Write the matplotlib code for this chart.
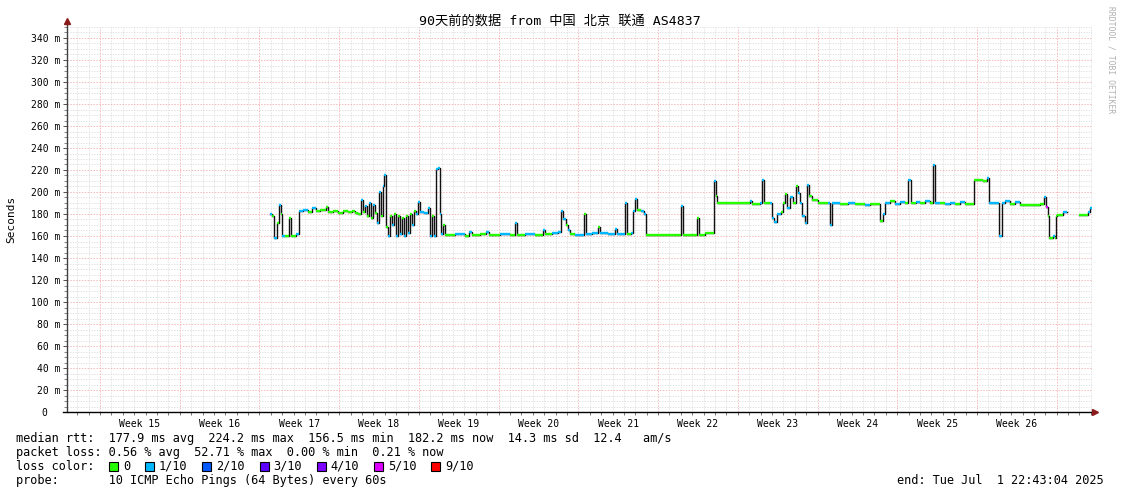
import numpy as np
import matplotlib
matplotlib.use("Agg")
import matplotlib.pyplot as plt
from matplotlib.patches import Rectangle

# ---------------- data ----------------
# time in days since start of the 90-day window, median rtt in ms, loss level (x/10)
t_days = [17.82, 18.00, 18.17, 18.44, 18.61, 18.79, 18.88, 19.14, 19.49, 19.67, 20.11, 20.37, 20.72,
          21.16, 21.51, 21.86, 22.21, 22.74, 22.92, 23.35, 23.79, 24.23, 24.67, 25.02, 25.29, 25.55,
          25.81, 25.99, 26.16, 26.34, 26.52, 26.69, 26.87, 27.04, 27.22, 27.39, 27.57, 27.75, 27.83,
          28.01, 28.18, 28.36, 28.54, 28.71, 28.89, 29.06, 29.24, 29.41, 29.59, 29.76, 29.94, 30.12,
          30.29, 30.47, 30.64, 30.82, 30.99, 31.35, 31.70, 31.87, 32.05, 32.22, 32.40, 32.57, 32.75,
          32.84, 33.01, 33.19, 34.07, 34.94, 35.30, 35.56, 36.26, 36.79, 37.05, 38.02, 38.90, 39.33,
          39.51, 40.21, 41.09, 41.79, 41.97, 42.58, 43.11, 43.37, 43.55, 43.81, 43.99, 44.16, 44.60,
          45.39, 45.57, 46.10, 46.62, 46.80, 47.50, 48.11, 48.29, 48.99, 49.17, 49.52, 49.69, 49.87,
          50.05, 50.40, 50.66, 50.84, 53.91, 54.08, 55.31, 55.49, 56.02, 56.81, 56.98, 57.07, 59.97,
          60.14, 60.85, 61.02, 61.20, 61.72, 61.90, 62.07, 62.34, 62.69, 62.86, 63.04, 63.22, 63.48,
          63.74, 64.01, 64.18, 64.36, 64.53, 64.80, 64.97, 65.15, 65.41, 65.94, 66.82, 66.99, 67.17,
          67.87, 68.57, 69.19, 70.06, 70.50, 71.38, 71.64, 71.82, 72.26, 72.70, 73.14, 73.58, 73.84,
          74.10, 74.54, 74.89, 75.33, 75.77, 76.03, 76.21, 76.65, 77.09, 77.53, 77.97, 78.41, 78.84,
          79.63, 79.90, 80.42, 80.78, 80.95, 81.83, 82.09, 82.36, 82.80, 83.23, 83.67, 84.55, 85.43,
          85.78, 85.96, 86.13, 86.22, 86.57, 86.75, 86.83, 86.92, 87.45, 87.80, 88.85, 89.64, 89.82,
          90.00]
rtt_ms = [180, 178, 158, 172, 188, 180, 160, 160, 176, 160, 162, 183, 184,
          182, 185, 183, 184, 186, 182, 183, 181, 183, 182, 183, 181, 180,
          193, 182, 187, 178, 190, 176, 188, 181, 172, 200, 178, 205, 215,
          168, 160, 178, 170, 180, 160, 178, 162, 176, 160, 178, 163, 180,
          170, 183, 180, 191, 182, 181, 185, 160, 178, 160, 221, 222, 180,
          162, 170, 161, 162, 160, 164, 161, 162, 164, 161, 162, 161, 172,
          161, 162, 161, 165, 162, 163, 164, 183, 175, 170, 165, 162, 161,
          180, 162, 163, 168, 163, 162, 166, 162, 190, 162, 163, 183, 194,
          184, 183, 180, 161, 187, 161, 176, 161, 163, 210, 196, 190, 192,
          189, 190, 211, 190, 190, 176, 173, 180, 182, 190, 198, 185, 195,
          190, 205, 199, 190, 178, 172, 206, 196, 193, 190, 190, 170, 190,
          189, 190, 189, 188, 189, 174, 180, 190, 192, 189, 191, 190, 211,
          190, 191, 190, 192, 190, 224.5, 190, 190, 189, 190, 189, 191, 189,
          211, 211, 210, 213, 190, 160, 190, 192, 189, 191, 188, 188, 189,
          195, 186, 178, 158, 160, 158, 178, 179, 182, np.nan, 179, 182, 185,
          185]
loss_lvl = [1, 0, 1, 0, 1, 0, 1, 0, 0, 0, 1, 1, 1,
            0, 1, 0, 0, 0, 0, 0, 0, 0, 0, 0, 0, 0,
            1, 0, 1, 0, 1, 0, 1, 0, 1, 1, 0, 1, 1,
            0, 1, 0, 1, 0, 1, 0, 1, 0, 1, 0, 1, 0,
            1, 0, 1, 1, 1, 1, 1, 1, 0, 1, 1, 1, 1,
            1, 0, 0, 1, 0, 1, 0, 0, 1, 0, 1, 0, 1,
            0, 1, 0, 1, 0, 1, 1, 1, 1, 0, 1, 0, 1,
            0, 1, 1, 0, 1, 1, 1, 1, 1, 0, 1, 1, 1,
            0, 1, 1, 0, 1, 0, 0, 0, 0, 1, 0, 0, 1,
            0, 1, 1, 0, 1, 1, 1, 1, 0, 0, 0, 1, 1,
            0, 0, 1, 1, 1, 1, 1, 0, 0, 0, 1, 1, 1,
            0, 1, 0, 1, 0, 0, 1, 1, 0, 1, 1, 0, 1,
            0, 1, 0, 1, 0, 1, 1, 0, 1, 1, 0, 1, 0,
            0, 0, 0, 1, 1, 1, 1, 1, 0, 1, 0, 0, 0,
            1, 5, 0, 0, 1, 0, 0, 0, 1, 0, 0, 1, 1,
            1]

week_labels = ["Week 15", "Week 16", "Week 17", "Week 18", "Week 19", "Week 20",
               "Week 21", "Week 22", "Week 23", "Week 24", "Week 25", "Week 26"]
first_week_start = 2.9   # day offset of first week boundary

loss_names = ["0", "1/10", "2/10", "3/10", "4/10", "5/10", "9/10"]
loss_colors = ["#26ff00", "#00b8ff", "#0059ff", "#5e00ff", "#7e00ff", "#dd00ff", "#ff0000"]
loss_color_by_level = {0: "#26ff00", 1: "#00b8ff", 2: "#0059ff", 3: "#5e00ff",
                       4: "#7e00ff", 5: "#dd00ff", 9: "#ff0000"}

title = "90天前的数据 from 中国 北京 联通 AS4837"
stat_lines = ["median rtt:  177.9 ms avg  224.2 ms max  156.5 ms min  182.2 ms now  14.3 ms sd  12.4   am/s",
              "packet loss: 0.56 % avg  52.71 % max  0.00 % min  0.21 % now"]
probe_line = "probe:       10 ICMP Echo Pings (64 Bytes) every 60s"
end_line = "end: Tue Jul  1 22:43:04 2025"

# ---------------- figure ----------------
W, H = 1121, 494
MONO = ["DejaVu Sans Mono", "Noto Sans CJK SC"]
plt.rcParams["font.family"] = MONO

fig = plt.figure(figsize=(W / 100, H / 100), dpi=100)
fig.patch.set_facecolor("white")
ax = fig.add_axes([67 / W, 82 / H, (1092 - 67) / W, 385 / H])
ax.set_xlim(0, 90)
ax.set_ylim(0, 350)
ax.set_facecolor("white")
for s in ax.spines.values():
    s.set_visible(False)

# grid
minor_col = "#dcdcdc"
major_col = "#f6b4b4"
dash = (0, (1.6, 1.6))
day_lines = np.arange(first_week_start - 2, 90, 1.0)
for d in day_lines:
    is_week = abs(((d - first_week_start) / 7.0) - round((d - first_week_start) / 7.0)) < 1e-6
    if not is_week:
        ax.axvline(d, color=minor_col, lw=0.6, ls=dash, zorder=0)
for y in np.arange(5, 351, 5):
    if y % 20 != 0:
        ax.axhline(y, color=minor_col, lw=0.6, ls=dash, zorder=0)
for y in np.arange(20, 341, 20):
    ax.axhline(y, color=major_col, lw=0.65, ls=dash, zorder=0.5)
week_bounds = first_week_start + 7 * np.arange(0, 13)
for d in week_bounds:
    ax.axvline(d, color=major_col, lw=0.65, ls=dash, zorder=0.5)

# ticks
yt = np.arange(0, 341, 20)
ax.set_yticks(yt)
ax.set_yticklabels(["0  " if v == 0 else f"{v} m" for v in yt])
ax.set_yticks(np.arange(0, 351, 5), minor=True)
week_centers = week_bounds[:12] + 3.5
ax.set_xticks(week_centers)
ax.set_xticklabels(week_labels)
ax.set_xticks(day_lines, minor=True)
ax.tick_params(axis="x", which="major", length=0, pad=5, labelsize=7)
ax.tick_params(axis="x", which="minor", length=2, width=0.6, color="#606060")
ax.tick_params(axis="y", which="major", length=3, width=0.7, color="#505050", pad=2, labelsize=7)
ax.tick_params(axis="y", which="minor", length=2, width=0.6, color="#707070")

# axis lines with arrows
ax.plot([0, 0], [0, 1.013], transform=ax.transAxes, color="#404040", lw=1.0, clip_on=False, zorder=5)
ax.plot([-0.004, 1.001], [0, 0], transform=ax.transAxes, color="black", lw=1.0, clip_on=False, zorder=5)
ax.plot([1.003], [0], marker=">", ms=4, color="#8b1a1a", transform=ax.transAxes, clip_on=False, zorder=6)
ax.plot([0], [1.016], marker="^", ms=4, color="#8b1a1a", transform=ax.transAxes, clip_on=False, zorder=6)

# data: median line (black transitions) + loss-coloured segments
t = np.array(t_days)
v = np.array(rtt_ms, dtype=float)
ax.step(t, v, where="post", color="#111111", lw=1.0, zorder=3)
for i in range(len(t) - 1):
    if np.isnan(v[i]):
        continue
    ax.hlines(v[i], t[i], t[i + 1], colors=loss_color_by_level[loss_lvl[i]], lw=1.7, zorder=4)

# labels
fig.text(560 / W, 1 - 21 / H, title, ha="center", va="center", fontsize=9.5, family=MONO)
fig.text(11 / W, 1 - 219 / H, "Seconds", rotation=90, ha="center", va="center", fontsize=8)
fig.text(1111 / W, 1 - 6 / H, "RRDTOOL / TOBI OETIKER", rotation=-90, ha="center", va="top",
         fontsize=5.8, color="#b0b0b0")

FS = 8.55
cw = FS * 100 / 72 * 0.602
x0 = 16
fig.text(x0 / W, 1 - 438 / H, stat_lines[0], ha="left", va="center", fontsize=FS)
fig.text(x0 / W, 1 - 452 / H, stat_lines[1], ha="left", va="center", fontsize=FS)
fig.text(x0 / W, 1 - 466 / H, "loss color:", ha="left", va="center", fontsize=FS)
col = 13
for name, c in zip(loss_names, loss_colors):
    sx = x0 + col * cw + 0.5
    fig.add_artist(Rectangle((sx / W, 1 - 470.5 / H), 9 / W, 9 / H, transform=fig.transFigure,
                             facecolor=c, edgecolor="black", lw=0.8))
    fig.text((x0 + (col + 2) * cw) / W, 1 - 466 / H, name, ha="left", va="center", fontsize=FS)
    col += 2 + len(name) + 2
fig.text(x0 / W, 1 - 480 / H, probe_line, ha="left", va="center", fontsize=FS)
fig.text(1104 / W, 1 - 480 / H, end_line, ha="right", va="center", fontsize=FS)

fig.savefig("out.png", dpi=100, facecolor="white")
